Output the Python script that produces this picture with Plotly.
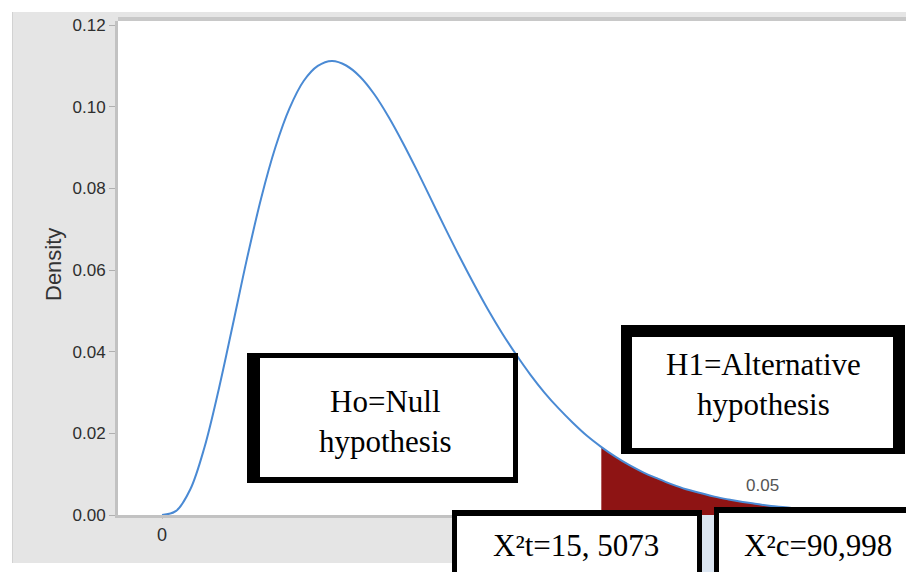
import plotly.graph_objects as go

# ---------------- data ----------------
chi_x = [0, 0.5, 1, 1.5, 2, 2.5, 3, 3.5, 4, 4.5, 5, 5.5, 6, 6.5, 7, 7.5, 8, 8.5,
         9, 9.5, 10, 10.5, 11, 11.5, 12, 12.5, 13, 13.5, 14, 14.5, 15, 15.5,
         16, 16.5, 17, 17.5, 18, 18.5, 19, 19.5, 20, 20.5, 21, 21.5, 22, 22.5,
         23, 23.5, 24, 24.5, 25]
density = [0.0000, 0.0010, 0.0063, 0.0166, 0.0307, 0.0466, 0.0628, 0.0776,
           0.0900, 0.0996, 0.1063, 0.1100, 0.1112, 0.1101, 0.1073, 0.1030,
           0.0975, 0.0912, 0.0844, 0.0773, 0.0702, 0.0633, 0.0567, 0.0504,
           0.0446, 0.0393, 0.0344, 0.0300, 0.0261, 0.0226, 0.0194, 0.0167,
           0.0143, 0.0122, 0.0104, 0.0089, 0.0075, 0.0063, 0.0054, 0.0045,
           0.0038, 0.0032, 0.0027, 0.0022, 0.0019, 0.0015, 0.0013, 0.0011,
           0.0009, 0.0007, 0.0006]
crit_value = 15.5073
crit_density = 0.0166
alpha_label = "0.05"
y_ticks = [0.00, 0.02, 0.04, 0.06, 0.08, 0.10, 0.12]
y_ticktext = ["0.00", "0.02", "0.04", "0.06", "0.08", "0.10", "0.12"]
x_ticks = [0]
x_ticktext = ["0"]
null_text = "Ho=Null<br>hypothesis"
alt_text = "H1=Alternative<br>hypothesis"
chi_table_text = "X²t=15, 5073"
chi_calc_text = "X²c=90,998"

tail_x = [crit_value] + [x for x in chi_x if x > crit_value]
tail_y = [crit_density] + [y for x, y in zip(chi_x, density) if x > crit_value]

# ---------------- layout geometry (page pixels; the page body adds 8px) ----------------
OFF = 8
W, H = 914 - OFF, 572 - OFF
PL, PT, PR, PB = 118, 21, 914, 515          # plot area in page pixels
L, T = PL - OFF, PT - OFF
R = (914 - OFF) - (PR - OFF)
B = H - (PB - OFF)
PW = W - L - R
PH = H - T - B


def px(xp):
    return (xp - OFF - L) / PW


def py(yp):
    return (H - B - (yp - OFF)) / PH


def rect(x0, y0, x1, y1, color, layer="above"):
    return dict(type="rect", xref="paper", yref="paper",
                x0=px(x0), x1=px(x1), y0=py(y1), y1=py(y0),
                fillcolor=color, line=dict(width=0), layer=layer)


fig = go.Figure()
fig.add_trace(go.Scatter(x=tail_x, y=tail_y, mode="lines", fill="tozeroy",
                         fillcolor="#8e1414", line=dict(width=0, color="#8e1414", shape="spline"),
                         hoverinfo="skip", showlegend=False))
fig.add_trace(go.Scatter(x=chi_x, y=density, mode="lines",
                         line=dict(color="#4a8ad4", width=2, shape="spline"),
                         showlegend=False))

shapes = [
    # white surroundings outside the gray frame
    rect(0, 0, 12, 580, "white", "below"),
    rect(0, 0, 920, 12, "white", "below"),
    rect(0, 563, 920, 580, "white", "below"),
    rect(12, 12, 13, 563, "#d2d2d2", "below"),
    rect(118, 17, 920, 21, "#c8c8c8", "below"),
    # Ho box
    rect(247, 353, 518, 483, "black"),
    rect(260, 358, 513, 477, "white"),
    # H1 box
    rect(621, 325, 905, 454, "black"),
    rect(632, 337, 893, 448, "white"),
    # bottom boxes
    rect(452, 510, 702, 580, "black"),
    rect(457, 516, 697, 580, "white"),
    rect(702, 515, 714, 580, "#dbe5f1"),
    rect(714, 507, 930, 580, "black"),
    rect(719, 513, 930, 580, "white"),
]

serif = dict(family="Liberation Serif, Times New Roman, serif", size=31, color="black")
annotations = [
    dict(text=null_text, x=px(385), y=py(421), xref="paper", yref="paper",
         showarrow=False, font=serif, xanchor="center", yanchor="middle"),
    dict(text=alt_text, x=px(763), y=py(384), xref="paper", yref="paper",
         showarrow=False, font=serif, xanchor="center", yanchor="middle"),
    dict(text=chi_table_text, x=px(576), y=py(545), xref="paper", yref="paper",
         showarrow=False, font=serif, xanchor="center", yanchor="middle"),
    dict(text=chi_calc_text, x=px(818), y=py(545), xref="paper", yref="paper",
         showarrow=False, font=serif, xanchor="center", yanchor="middle"),
    dict(text=alpha_label, x=px(762), y=py(485), xref="paper", yref="paper",
         showarrow=False, font=dict(family="Liberation Sans, Arial", size=17, color="#555555"),
         xanchor="center", yanchor="middle"),
    dict(text="Density", x=px(53), y=py(265), xref="paper", yref="paper",
         showarrow=False, textangle=-90,
         font=dict(family="Liberation Sans, Arial", size=22, color="#333333"),
         xanchor="center", yanchor="middle"),
]

x0_px = 162
unit = 28.33
fig.update_layout(
    width=W, height=H,
    margin=dict(l=L, r=R, t=T, b=B, pad=0),
    paper_bgcolor="#e5e5e5",
    plot_bgcolor="white",
    shapes=shapes,
    annotations=annotations,
    showlegend=False,
    xaxis=dict(range=[(PL - x0_px) / unit, (PR - x0_px) / unit],
               tickvals=x_ticks, ticktext=x_ticktext,
               showgrid=False, zeroline=False, showline=True,
               linecolor="#c2c2c2", linewidth=3,
               ticks="outside", ticklen=1, tickcolor="#c2c2c2",
               tickfont=dict(family="Liberation Sans, Arial", size=18, color="#2e2e2e")),
    yaxis=dict(range=[0, 0.121], tickvals=y_ticks, ticktext=y_ticktext,
               showgrid=False, zeroline=False, showline=True,
               linecolor="#c2c2c2", linewidth=3,
               ticks="outside", ticklen=6, tickcolor="#b0b0b0",
               tickfont=dict(family="Liberation Sans, Arial", size=17, color="#2e2e2e")),
)

fig.write_html("out.html")
